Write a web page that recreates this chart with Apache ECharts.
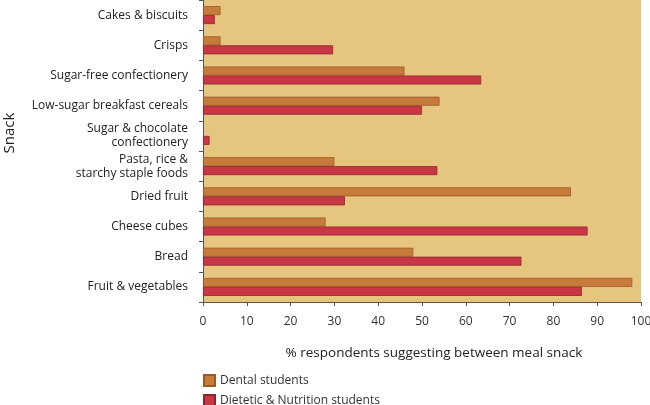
<!DOCTYPE html>
<html>
<head>
<meta charset="utf-8">
<script src="https://cdn.jsdelivr.net/npm/echarts@6/dist/echarts.min.js"></script>
<style>
  html, body { margin: 0; padding: 0; background: #fff; }
  #chart { width: 650px; height: 405px; }
</style>
</head>
<body>
<div id="chart"></div>
<script>
// snacks, top to bottom
var snacks = [
  'Cakes & biscuits',
  'Crisps',
  'Sugar-free confectionery',
  'Low-sugar breakfast cereals',
  'Sugar & chocolate\nconfectionery',
  'Pasta, rice &\nstarchy staple foods',
  'Dried fruit',
  'Cheese cubes',
  'Bread',
  'Fruit & vegetables'
];
var dental = [4, 4, 46, 54, 0, 30, 84, 28, 48, 98];
var dietetic = [2.7, 29.7, 63.5, 50, 1.5, 53.5, 32.4, 87.8, 72.7, 86.5];
var xTicks = [0, 10, 20, 30, 40, 50, 60, 70, 80, 90, 100];
var seriesNames = ['Dental students', 'Dietetic & Nutrition students'];

var font = 'Open Sans';
var chart = echarts.init(document.getElementById('chart'));

function legendAt(name, top) {
  return {
    left: 203, top: top, padding: 0,
    itemWidth: 11, itemHeight: 11,
    icon: 'rect',
    textStyle: { fontFamily: font, fontSize: 12, color: '#333' },
    data: [name]
  };
}

// zero-length bars get no outline, like the original
function barData(values) {
  return values.map(function (v) {
    return v === 0 ? { value: v, itemStyle: { borderWidth: 0 } } : v;
  });
}

var option = {
  animation: false,
  textStyle: { fontFamily: font },
  grid: {
    left: 203, right: 9, top: 0, bottom: 103,
    outerBoundsMode: 'none',
    show: true, backgroundColor: '#E6C57E', borderWidth: 0
  },
  legend: [legendAt(seriesNames[0], 374), legendAt(seriesNames[1], 394)],
  xAxis: {
    type: 'value',
    min: xTicks[0], max: xTicks[xTicks.length - 1], interval: 10,
    name: '% respondents suggesting between meal snack',
    nameLocation: 'middle', nameGap: 44,
    nameTextStyle: { fontFamily: font, fontSize: 13.5, color: '#222', padding: [0, 0, 0, 24] },
    axisLine: { show: true, lineStyle: { color: '#555' } },
    axisTick: { show: true, length: 4, lineStyle: { color: '#555' } },
    axisLabel: { fontFamily: font, fontSize: 12, color: '#333', margin: 14 },
    splitLine: { show: false }
  },
  yAxis: {
    type: 'category',
    inverse: true,
    data: snacks,
    name: 'Snack',
    nameLocation: 'middle', nameGap: 186,
    nameTextStyle: { fontFamily: font, fontSize: 15, color: '#222', padding: [0, 0, 0, 36] },
    axisLine: { show: true, lineStyle: { color: '#555' } },
    axisTick: { show: true, length: 4, lineStyle: { color: '#555' } },
    axisLabel: { fontFamily: font, fontSize: 12, color: '#222', margin: 15, lineHeight: 14 }
  },
  series: [
    {
      name: seriesNames[0],
      type: 'bar',
      data: barData(dental),
      barWidth: 9,
      barGap: '0%',
      itemStyle: { color: '#C77B3B', borderColor: '#9A5A28', borderWidth: 0.8 }
    },
    {
      name: seriesNames[1],
      type: 'bar',
      data: barData(dietetic),
      barWidth: 9,
      barGap: '0%',
      itemStyle: { color: '#C93744', borderColor: '#8E2530', borderWidth: 0.8 }
    }
  ]
};
chart.setOption(option);
</script>
</body>
</html>
